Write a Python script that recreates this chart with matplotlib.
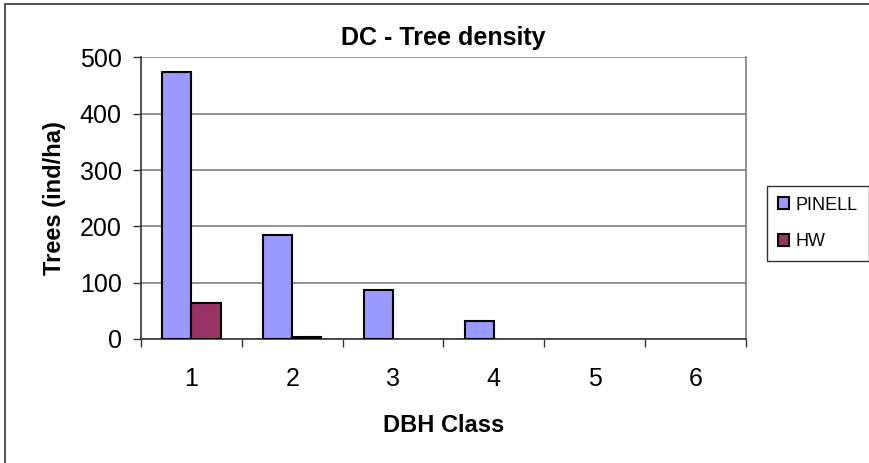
import matplotlib.pyplot as plt
import numpy as np
from matplotlib.patches import Rectangle

plt.rcParams['font.family'] = ['Liberation Sans', 'DejaVu Sans']

# DBH classes and tree densities (ind/ha)
classes = [1, 2, 3, 4, 5, 6]
pinell = [474, 184, 87, 31, 0, 0]
hw = [63, 3, 0, 0, 0, 0]
yticks = [0, 100, 200, 300, 400, 500]

fig = plt.figure(figsize=(8.69, 4.63), dpi=100)
ax = fig.add_axes([0.1623, 0.268, 0.696, 0.608])

x = np.array(classes)
w = 0.29
# Excel draws no outline for zero-height bars
ax.bar(x - w / 2, pinell, w, color='#9999ff', edgecolor='black',
       linewidth=[1.5 if v > 0 else 0 for v in pinell], label='PINELL', zorder=3)
ax.bar(x + w / 2, hw, w, color='#993366', edgecolor='black',
       linewidth=[1.5 if v > 0 else 0 for v in hw], label='HW', zorder=3)

ax.set_xlim(0.5, 6.5)
ax.set_ylim(0, 500)
ax.set_yticks(yticks)
ax.set_yticklabels([str(v) for v in yticks], fontsize=18)
ax.yaxis.grid(True, color='#808080', linewidth=1.2, zorder=0)

# category boundary ticks, labels at centres
ax.set_xticks(np.arange(0.5, 7, 1))
ax.set_xticklabels([])
ax.set_xticks(x, minor=True)
ax.set_xticklabels([str(c) for c in classes], minor=True, fontsize=18)
ax.tick_params(axis='x', which='major', length=6, width=1, color='#333333')
ax.tick_params(axis='x', which='minor', length=0, pad=20)
ax.tick_params(axis='y', length=6, width=1, color='#333333', pad=8)

for s in ['left', 'bottom']:
    ax.spines[s].set_color('#333333')
    ax.spines[s].set_linewidth(1.2)
ax.spines['right'].set_color('#808080')
ax.spines['right'].set_linewidth(1.2)
ax.spines['top'].set_visible(False)

ax.set_title('DC - Tree density', fontsize=18, fontweight='bold', pad=9)
ax.set_xlabel('DBH Class', fontsize=17, fontweight='bold', labelpad=17)
ax.set_ylabel('Trees (ind/ha)', fontsize=17, fontweight='bold', labelpad=10)

leg = fig.legend(*ax.get_legend_handles_labels(), loc='center left',
                 bbox_to_anchor=(767 / 869, 1 - 223.5 / 463), fontsize=13, frameon=True,
                 fancybox=False, edgecolor='black', handlelength=0.6, handleheight=0.6,
                 labelspacing=1.1, borderpad=0.6, handletextpad=0.4, borderaxespad=0)
leg.get_frame().set_linewidth(1)

# chart border
fig.patches.append(Rectangle((5 / 869, -0.05), 0.999, 1 - 4 / 463 + 0.05, transform=fig.transFigure,
                             fill=False, edgecolor='#333333', linewidth=1.2))

fig.savefig('out.png', dpi=100)
